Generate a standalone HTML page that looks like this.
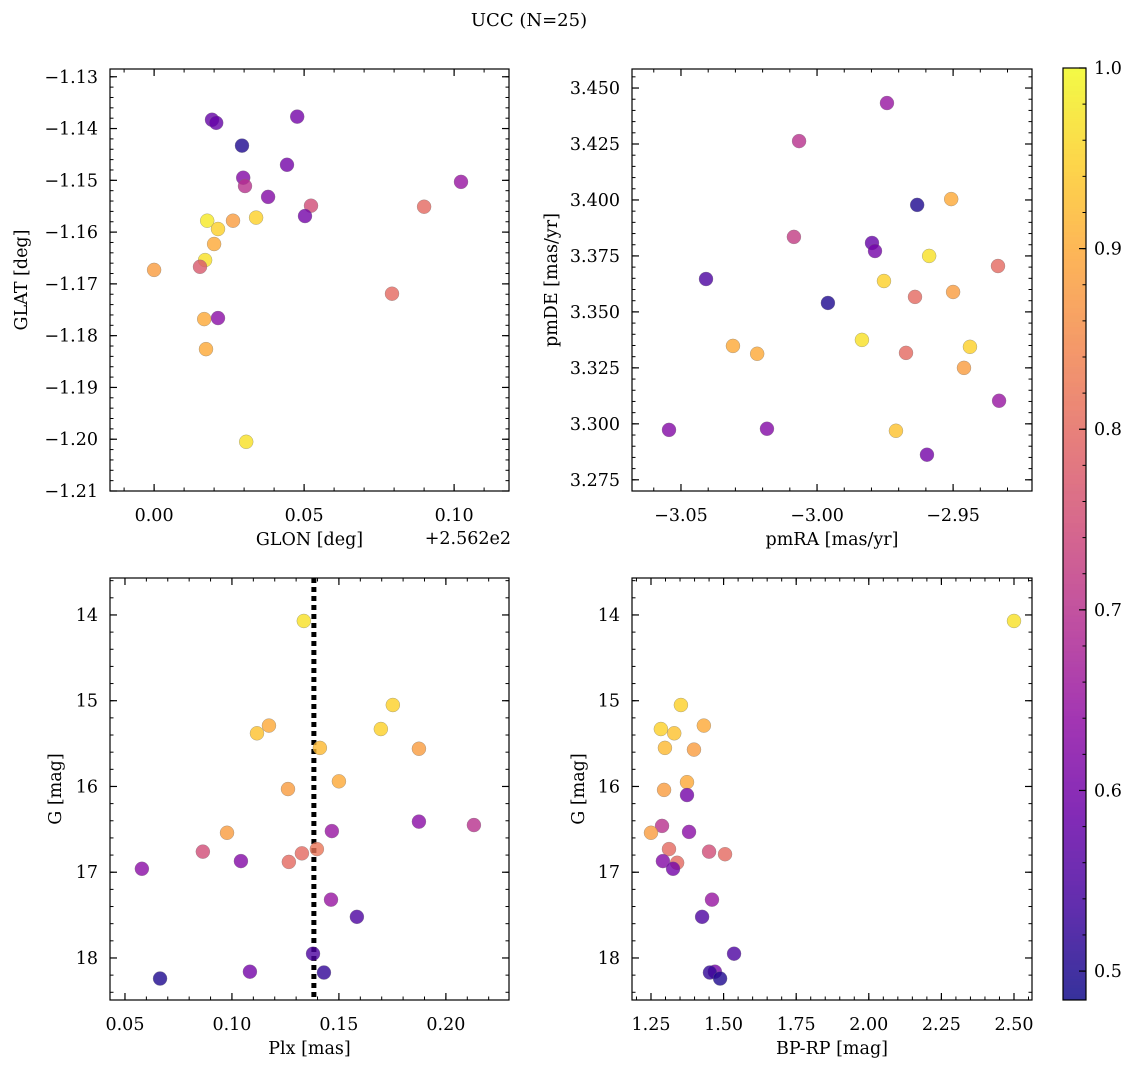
<!DOCTYPE html>
<html><head><meta charset="utf-8"><style>
html,body{margin:0;padding:0;background:#fff;}
svg{display:block;font-family:"DejaVu Serif","Liberation Serif",serif;}
</style></head><body>
<svg id="fig" width="1136" height="1068" viewBox="0 0 1136 1068" xmlns="http://www.w3.org/2000/svg">
<text x="529" y="26" font-size="18" text-anchor="middle">UCC (N=25)</text>
</svg>
<script>
// Panel 1: GLON offset vs GLAT
const glon = [0.0193,0.0207,0.0477,0.0293,0.0443,0.0297,0.0303,0.038,0.1023,0.0523,0.0503,0.09,0.0177,0.0263,0.034,0.0213,0.02,0.017,0.0,0.0153,0.0793,0.0167,0.0213,0.0173,0.0307];
const glat = [-1.1383,-1.1389,-1.1377,-1.1433,-1.147,-1.1495,-1.1511,-1.1532,-1.1503,-1.1549,-1.1569,-1.1551,-1.1578,-1.1578,-1.1572,-1.1594,-1.1623,-1.1654,-1.1673,-1.1667,-1.1719,-1.1768,-1.1766,-1.1826,-1.2005];
const prob1 = [0.58,0.58,0.6,0.5,0.6,0.62,0.7,0.62,0.65,0.75,0.6,0.8,0.98,0.88,0.95,0.95,0.9,0.97,0.88,0.77,0.8,0.9,0.63,0.9,0.97];
// Panel 2: pmRA vs pmDE
const pmra = [-2.9743,-3.0066,-2.9632,-2.9507,-3.0085,-2.9798,-2.9787,-2.9588,-3.0408,-2.9754,-2.9335,-2.964,-2.95,-2.996,-2.9835,-3.0309,-3.022,-2.9438,-2.9673,-2.946,-2.9331,-3.0544,-3.0184,-2.971,-2.9596];
const pmde = [3.4433,3.4263,3.3978,3.4004,3.3835,3.3808,3.3772,3.375,3.3647,3.3638,3.3705,3.3567,3.3589,3.354,3.3375,3.3348,3.3313,3.3344,3.3317,3.325,3.3103,3.2973,3.2978,3.2969,3.2862];
const prob2 = [0.65,0.7,0.5,0.9,0.72,0.58,0.6,0.97,0.55,0.95,0.8,0.8,0.88,0.5,0.97,0.9,0.9,0.95,0.8,0.88,0.65,0.62,0.62,0.93,0.6];
// Panel 3: Plx vs G
const plx = [0.1336,0.1752,0.1696,0.1173,0.1117,0.1411,0.1874,0.15,0.1262,0.1874,0.2131,0.0977,0.1467,0.0864,0.1397,0.1327,0.1266,0.1042,0.0579,0.1463,0.1584,0.1379,0.1084,0.143,0.0664];
const gmag3 = [14.07,15.05,15.33,15.29,15.38,15.55,15.56,15.94,16.03,16.41,16.45,16.54,16.52,16.76,16.73,16.78,16.88,16.87,16.96,17.32,17.52,17.95,18.16,18.17,18.24];
const prob3 = [0.97,0.95,0.95,0.9,0.93,0.92,0.88,0.9,0.88,0.63,0.7,0.88,0.65,0.75,0.82,0.8,0.8,0.62,0.63,0.65,0.55,0.55,0.6,0.52,0.5];
const plxMedian = [0.1383];
// Panel 4: BP-RP vs G
const bprp = [2.50,1.353,1.284,1.33,1.432,1.298,1.398,1.374,1.295,1.374,1.381,1.288,1.25,1.312,1.45,1.505,1.34,1.291,1.326,1.46,1.426,1.536,1.47,1.453,1.488];
const gmag4 = [14.07,15.05,15.33,15.38,15.29,15.55,15.57,15.95,16.04,16.1,16.53,16.46,16.54,16.73,16.76,16.79,16.89,16.87,16.96,17.32,17.52,17.95,18.16,18.17,18.24];
const prob4 = [0.97,0.95,0.95,0.93,0.9,0.92,0.88,0.9,0.88,0.6,0.63,0.7,0.88,0.8,0.75,0.8,0.8,0.62,0.6,0.65,0.55,0.55,0.6,0.52,0.5];
// tick labels
const xt1 = ["0.00","0.05","0.10"], yt1 = ["−1.13","−1.14","−1.15","−1.16","−1.17","−1.18","−1.19","−1.20","−1.21"];
const xt2 = ["−3.05","−3.00","−2.95"], yt2 = ["3.450","3.425","3.400","3.375","3.350","3.325","3.300","3.275"];
const xt3 = ["0.05","0.10","0.15","0.20"], yt3 = ["14","15","16","17","18"];
const xt4 = ["1.25","1.50","1.75","2.00","2.25","2.50"];
const cbt = ["0.5","0.6","0.7","0.8","0.9","1.0"];

const NS="http://www.w3.org/2000/svg";
const svg=document.getElementById('fig');
const FS=17.5;
function mk(tag,attrs,parent){const e=document.createElementNS(NS,tag);for(const k in attrs)e.setAttribute(k,attrs[k]);(parent||svg).appendChild(e);return e;}
const stops=["#0d0887","#41049d","#6a00a8","#8f0da4","#b12a90","#cc4778","#e16462","#f2844b","#fca636","#fcce25","#f0f921"];
function hex(h){return [1,3,5].map(i=>parseInt(h.substr(i,2),16));}
const VMIN=0.484,VMAX=1.0;
function cmap(v){let t=(v-VMIN)/(VMAX-VMIN);t=Math.max(0,Math.min(1,t))*10;const i=Math.min(9,Math.floor(t)),f=t-i;const a=hex(stops[i]),b=hex(stops[i+1]);return "rgb("+a.map((x,k)=>Math.round(x+(b[k]-x)*f)).join(",")+")";}

function panel(cfg){
  const g=mk('g',{});
  
  
  const {L,R,T,B,x0,x1,y0,y1}=cfg;
  const sx=v=>L+(v-x0)/(x1-x0)*(R-L);
  const sy=v=>cfg.inv? T+(v-y0)/(y1-y0)*(B-T) : B-(v-y0)/(y1-y0)*(B-T);
  if(cfg.extra)cfg.extra(g,sx,sy);
  const pg=mk('g',{},g);
  
  
  for(let i=0;i<cfg.xs.length;i++){
    const c=mk('circle',{cx:sx(cfg.xs[i]),cy:sy(cfg.ys[i]),r:7,fill:cmap(cfg.cs[i]),'fill-opacity':0.8,stroke:'#777','stroke-width':0.5,'stroke-opacity':0.6},pg);
    
    
  }
  const fr=mk('rect',{x:L,y:T,width:R-L,height:B-T,fill:'none',stroke:'#000','stroke-width':1.2},g);
  
  
  function ticks(start,step,end,isX,len){
    for(let v=start;v<=end+1e-9;v+=step){
      if(isX){const x=sx(v);if(x<L-0.5||x>R+0.5)continue;
        mk('line',{x1:x,x2:x,y1:B,y2:B-len,stroke:'#000','stroke-width':1},g);
        mk('line',{x1:x,x2:x,y1:T,y2:T+len,stroke:'#000','stroke-width':1},g);}
      else{const y=sy(v);if(y<T-0.5||y>B+0.5)continue;
        mk('line',{x1:L,x2:L+len,y1:y,y2:y,stroke:'#000','stroke-width':1},g);
        mk('line',{x1:R,x2:R-len,y1:y,y2:y,stroke:'#000','stroke-width':1},g);}
    }
  }
  ticks(cfg.xmin0,cfg.xminor,x1,true,3.5);
  ticks(cfg.ymin0,cfg.yminor,Math.max(y0,y1),false,3.5);
  cfg.xtv.forEach((v,i)=>{const x=sx(v);
    mk('line',{x1:x,x2:x,y1:B,y2:B-7,stroke:'#000','stroke-width':1.2},g);
    mk('line',{x1:x,x2:x,y1:T,y2:T+7,stroke:'#000','stroke-width':1.2},g);
    const t=mk('text',{x:x,y:B+30,'font-size':FS,'text-anchor':'middle'},g);t.textContent=cfg.xt[i];
    
    });
  cfg.ytv.forEach((v,i)=>{const y=sy(v);
    mk('line',{x1:L,x2:L+7,y1:y,y2:y,stroke:'#000','stroke-width':1.2},g);
    mk('line',{x1:R,x2:R-7,y1:y,y2:y,stroke:'#000','stroke-width':1.2},g);
    const t=mk('text',{x:L-12,y:y+6,'font-size':FS,'text-anchor':'end'},g);t.textContent=cfg.yt[i];
    
    });
  const xl=mk('text',{x:(L+R)/2,y:B+54,'font-size':FS,'text-anchor':'middle'},g);xl.textContent=cfg.xlabel;
  
  
  const yl=mk('text',{x:cfg.ylx,y:(T+B)/2,'font-size':FS,'text-anchor':'middle',transform:`rotate(-90 ${cfg.ylx} ${(T+B)/2})`},g);yl.textContent=cfg.ylabel;
  
  
}
panel({name:'glon-glat-panel',L:110,R:509,T:69,B:491,x0:-0.0147,x1:0.1183,y0:-1.21,y1:-1.1285,xs:glon,ys:glat,cs:prob1,
  xmin0:-0.01,xminor:0.01,ymin0:-1.21,yminor:0.002,xtv:[0,0.05,0.1],xt:xt1,ytv:[-1.13,-1.14,-1.15,-1.16,-1.17,-1.18,-1.19,-1.2,-1.21],yt:yt1,
  xlabel:'GLON [deg]',ylabel:'GLAT [deg]',ylx:27,
  extra:(g)=>{const t=mk('text',{x:511,y:544,'font-size':FS,'text-anchor':'end'},g);t.textContent='+2.562e2';
    
    }});
panel({name:'proper-motion-panel',L:632,R:1032,T:69,B:491,x0:-3.068,x1:-2.921,y0:3.270,y1:3.4585,xs:pmra,ys:pmde,cs:prob2,
  xmin0:-3.06,xminor:0.01,ymin0:3.275,yminor:0.005,xtv:[-3.05,-3.0,-2.95],xt:xt2,ytv:[3.45,3.425,3.4,3.375,3.35,3.325,3.3,3.275],yt:yt2,
  xlabel:'pmRA [mas/yr]',ylabel:'pmDE [mas/yr]',ylx:557});
panel({name:'parallax-panel',L:110,R:509,T:578,B:1000,x0:0.043,x1:0.2295,y0:13.569,y1:18.49,inv:true,xs:plx,ys:gmag3,cs:prob3,
  xmin0:0.05,xminor:0.01,ymin0:13.6,yminor:0.2,xtv:[0.05,0.1,0.15,0.2],xt:xt3,ytv:[14,15,16,17,18],yt:yt3,
  xlabel:'Plx [mas]',ylabel:'G [mag]',ylx:61,
  extra:(g,sx)=>{const l=mk('line',{x1:sx(plxMedian[0]),x2:sx(plxMedian[0]),y1:578,y2:1000,stroke:'#000','stroke-width':5,'stroke-dasharray':'5,4'},g);
    
    }});
panel({name:'cmd-panel',L:632,R:1032,T:578,B:1000,x0:1.1846,x1:2.562,y0:13.569,y1:18.49,inv:true,xs:bprp,ys:gmag4,cs:prob4,
  xmin0:1.2,xminor:0.05,ymin0:13.6,yminor:0.2,xtv:[1.25,1.5,1.75,2.0,2.25,2.5],xt:xt4,ytv:[14,15,16,17,18],yt:yt3,
  xlabel:'BP-RP [mag]',ylabel:'G [mag]',ylx:584});
// colorbar
const cb=mk('g',{});


const CT=68,CB=1000,CL=1063,CR=1086;
const cy=v=>CB-(v-VMIN)/(VMAX-VMIN)*(CB-CT);
for(let y=CT;y<CB;y++){mk('rect',{x:CL,y:y,width:CR-CL,height:1.2,fill:cmap(VMIN+(CB-y-0.5)/(CB-CT)*(VMAX-VMIN)),'fill-opacity':0.8},cb);}
mk('rect',{x:CL,y:CT,width:CR-CL,height:CB-CT,fill:'none',stroke:'#000','stroke-width':1.2},cb);
for(let v=0.5;v<=1.0001;v+=0.02){const y=cy(v);mk('line',{x1:CR,x2:CR-3.5,y1:y,y2:y,stroke:'#000'},cb);}
cbt.forEach(s=>{const v=parseFloat(s),y=cy(v);
  mk('line',{x1:CR,x2:CR-7,y1:y,y2:y,stroke:'#000','stroke-width':1.2},cb);
  const t=mk('text',{x:CR+8,y:y+6,'font-size':FS},cb);t.textContent=s;
  
  });
</script>
</body></html>
